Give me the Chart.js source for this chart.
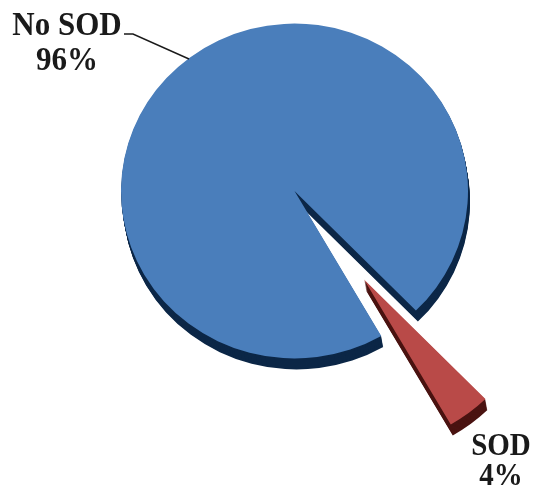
<!DOCTYPE html>
<html>
<head>
<meta charset="utf-8">
<title>SOD share</title>
<script src="https://cdn.jsdelivr.net/npm/chart.js@4.4.0/dist/chart.umd.min.js"></script>
<style>
  html, body { margin: 0; padding: 0; background: #fff; }
  #wrap { width: 534px; height: 493px; }
</style>
</head>
<body>
<div id="wrap"><canvas id="sodPie" width="534" height="493"></canvas></div>
<script>
'use strict'

// Share of cases with and without SOD
let categories = ['No SOD', 'SOD'];
let shares = [96, 4];

// Look of the slices
let faceColors = ['#4a7ebb', '#b94a48'];
let sideColors = ['#0c2747', '#4a1311'];
let explodeBy = [0, 115];   // how far each slice is pulled out, px

// Where the two captions go (centre x, first baseline)
let captionSpots = [
  { x: 67, y: 35, size: 31, stretch: 1.07, gap: 35 },
  { x: 501, y: 455, size: 29, stretch: 1.12, gap: 30 }
];

const depth = 11;      // height of the extruded side
const drift = 2;       // side leans a little to the right
const squash = 0.965;  // tilt: pie is a touch flatter than round

// Draws each arc again, pulled out, squashed and with a dark side wall
const pie3d = {
  id: 'pie3d',
  beforeDatasetsDraw(chart) {
    const ctx = chart.ctx;
    const arcs = chart.getDatasetMeta(0).data;

    function paint(arc, i, color, dx, dy) {
      const mid = (arc.startAngle + arc.endAngle) / 2;
      const copy = new arc.constructor({
        x: arc.x,
        y: arc.y,
        startAngle: arc.startAngle,
        endAngle: arc.endAngle,
        circumference: arc.circumference,
        innerRadius: arc.innerRadius,
        outerRadius: arc.outerRadius,
        options: Object.assign({}, arc.options, { backgroundColor: color, borderWidth: 0 })
      });
      ctx.save();
      ctx.translate(dx, dy);
      ctx.translate(arc.x, arc.y);
      ctx.scale(1, squash);
      ctx.translate(-arc.x, -arc.y);
      ctx.translate(Math.cos(mid) * explodeBy[i], Math.sin(mid) * explodeBy[i]);
      copy.draw(ctx);
      ctx.restore();
    }

    // side walls first, deepest layer at the bottom
    for (let k = depth; k >= 1; k--) {
      arcs.forEach((arc, i) => paint(arc, i, sideColors[i], drift * k / depth, k));
    }
    // then the top faces
    arcs.forEach((arc, i) => paint(arc, i, faceColors[i], 0, 0));
    return false;
  },
  afterDraw(chart) {
    const ctx = chart.ctx;

    // leader line from the "No SOD" caption to the pie
    ctx.save();
    ctx.strokeStyle = '#1a1a1a';
    ctx.lineWidth = 1.4;
    ctx.beginPath();
    ctx.moveTo(124, 34);
    ctx.lineTo(133, 34);
    ctx.lineTo(189, 59);
    ctx.stroke();
    ctx.restore();

    captionSpots.forEach((spot, i) => {
      ctx.save();
      ctx.fillStyle = '#1a1a1a';
      ctx.textAlign = 'center';
      ctx.textBaseline = 'alphabetic';
      ctx.font = 'bold ' + spot.size + 'px "Liberation Serif", "Times New Roman", serif';
      ctx.translate(spot.x, spot.y);
      ctx.scale(1, spot.stretch);
      ctx.fillText(categories[i], 0, 0);
      ctx.fillText(shares[i] + '%', 0, spot.gap / spot.stretch);
      ctx.restore();
    });
  }
};

const sodChart = new Chart(document.getElementById('sodPie'), {
  type: 'pie',
  data: {
    labels: categories,
    datasets: [{
      data: shares,
      backgroundColor: faceColors,
      borderWidth: 0
    }]
  },
  options: {
    responsive: false,
    animation: false,
    rotation: 150,
    layout: {
      padding: { left: 121, right: 66, top: 17.5, bottom: 128.5 }
    },
    plugins: {
      legend: { display: false },
      tooltip: { enabled: false }
    }
  },
  plugins: [pie3d]
});
</script>
</body>
</html>
